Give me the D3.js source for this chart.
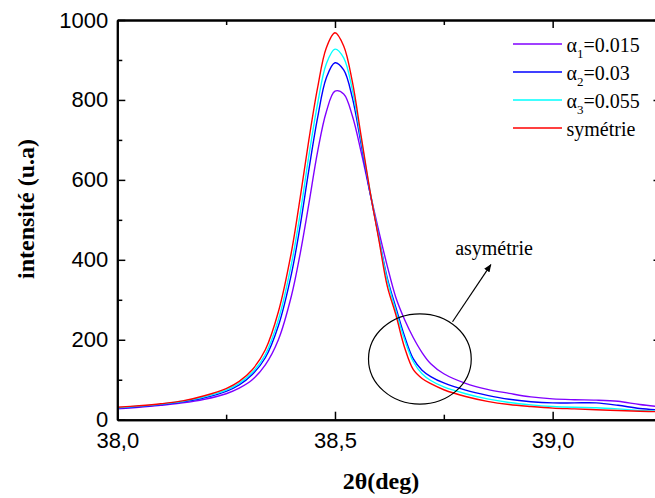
<!DOCTYPE html>
<html><head><meta charset="utf-8">
<script src="https://cdn.jsdelivr.net/npm/d3@7"></script>
<style>
html,body{margin:0;padding:0;background:#fff;}
svg{display:block;}
</style></head>
<body>
<svg id="chart" width="655" height="498"></svg>
<script>
// ---- data ----
const theta = [38.00,38.05,38.10,38.15,38.20,38.25,38.28,38.31,38.34,38.37,38.40,38.42,38.44,38.46,38.48,38.50,38.52,38.54,38.56,38.58,38.60,38.62,38.64,38.66,38.68,38.70,38.72,38.75,38.80,38.85,38.90,38.95,39.00,39.05,39.10,39.15,39.20,39.25];
const alpha1 = [27,31,36,42,51,65,79,100,137,200,310,415,540,670,770,822,815,760,670,570,475,385,305,250,205,168,140,115,91,76,66,57,52,50,49,46,38,32];
const alpha2 = [29,33,38,45,55,71,87,113,155,235,365,485,625,755,855,893,875,805,690,570,460,355,280,208,152,124,108,92,74,61,51,45,42,42,42,36,28,24];
const alpha3 = [30,34,39,46,57,74,91,118,163,250,390,515,660,790,890,927,905,825,700,575,460,350,272,200,145,115,98,82,65,52,43,37,33,31,30,27,23,21];
const symetrie = [31,35,40,47,60,78,96,125,175,270,420,555,700,830,930,968,935,845,710,575,455,335,262,180,125,103,90,75,58,46,38,33,29,27,25,23,21,20];
const seriesNames = ["α1","α2","α3","symétrie"];
const legendMain = ["α","α","α","symétrie"];
const legendSub = ["1","2","3",""];
const legendVal = ["=0.015","=0.03","=0.055",""];
const seriesColors = ["#8000ff","#0000ff","#00ffff","#ff0000"];
const xMajor = [38.0,38.5,39.0];
const xMajorLabels = ["38,0","38,5","39,0"];
const xMinor = [38.25,38.75,39.25];
const yMajor = [0,200,400,600,800,1000];
const yMinor = [100,300,500,700,900];
const annot = {cx:38.695, cy:152, rx:0.118, ry:113, ax0:38.770, ay0:245, ax1:38.858, ay1:388, tx:38.776, ty:412, text:"asymétrie"};

// ---- layout ----
const svg = d3.select("#chart");
const X0 = 117.3, X1 = 661.5, Y0 = 419.7, Y1 = 20;
const x = d3.scaleLinear().domain([38.0,39.25]).range([X0,X1]);
const y = d3.scaleLinear().domain([0,1000]).range([Y0,Y1]);

svg.append("defs").append("clipPath").attr("id","clip")
  .append("rect").attr("x",X0).attr("y",Y1).attr("width",X1-X0).attr("height",Y0-Y1);

const data = [alpha1, alpha2, alpha3, symetrie];
const line = d3.line().x((d,i)=>x(theta[i])).y(d=>y(d)).curve(d3.curveCatmullRom.alpha(0.5));
const g = svg.append("g").attr("clip-path","url(#clip)");
data.forEach((s,k)=>{
  g.append("path").datum(s).attr("d",line).attr("fill","none")
   .attr("stroke",seriesColors[k]).attr("stroke-width",1.4);
});

// ---- axes ----
const fmtX = d => xMajorLabels[xMajor.indexOf(d)];
function styleAxis(sel){
  sel.select(".domain").attr("stroke","#000").attr("stroke-width",2);
  sel.selectAll(".tick line").attr("stroke","#000").attr("stroke-width",1.5);
  sel.selectAll("text").attr("fill","#000");
}
const sans = "'Liberation Sans', Arial, sans-serif";
const serif = "'Liberation Serif', 'Times New Roman', serif";

// bottom
svg.append("g").attr("transform",`translate(0,${Y0})`)
  .call(d3.axisBottom(x).tickValues(xMajor).tickFormat(fmtX).tickSizeInner(-8).tickSizeOuter(0).tickPadding(12.5))
  .call(styleAxis).call(a=>a.selectAll("text").attr("font-family",sans).attr("font-size",22));
svg.append("g").attr("transform",`translate(0,${Y0})`)
  .call(d3.axisBottom(x).tickValues(xMinor).tickFormat("").tickSizeInner(-5).tickSizeOuter(0))
  .call(styleAxis);
// top
svg.append("g").attr("transform",`translate(0,${Y1})`)
  .call(d3.axisTop(x).tickValues(xMajor).tickFormat("").tickSizeInner(-8).tickSizeOuter(0))
  .call(styleAxis);
svg.append("g").attr("transform",`translate(0,${Y1})`)
  .call(d3.axisTop(x).tickValues(xMinor).tickFormat("").tickSizeInner(-5).tickSizeOuter(0))
  .call(styleAxis);
// left
svg.append("g").attr("transform",`translate(${X0},0)`)
  .call(d3.axisLeft(y).tickValues(yMajor).tickFormat(d3.format("d")).tickSizeInner(-8).tickSizeOuter(0).tickPadding(9))
  .call(styleAxis).call(a=>a.selectAll("text").attr("font-family",sans).attr("font-size",22));
svg.append("g").attr("transform",`translate(${X0},0)`)
  .call(d3.axisLeft(y).tickValues(yMinor).tickFormat("").tickSizeInner(-5).tickSizeOuter(0))
  .call(styleAxis);
// right
svg.append("g").attr("transform",`translate(${X1},0)`)
  .call(d3.axisRight(y).tickValues(yMajor).tickFormat("").tickSizeInner(-8).tickSizeOuter(0))
  .call(styleAxis);
svg.append("g").attr("transform",`translate(${X1},0)`)
  .call(d3.axisRight(y).tickValues(yMinor).tickFormat("").tickSizeInner(-5).tickSizeOuter(0))
  .call(styleAxis);

// axis titles
svg.append("text").attr("x",381).attr("y",489).attr("text-anchor","middle")
  .attr("font-family",serif).attr("font-weight","bold").attr("font-size",24).text("2θ(deg)");
svg.append("text").attr("transform","translate(34,209) rotate(-90)").attr("text-anchor","middle")
  .attr("font-family",serif).attr("font-weight","bold").attr("font-size",24).text("intensité (u.a)");

// legend
const lg = svg.append("g");
seriesNames.forEach((n,k)=>{
  const ly = 44 + k*28;
  lg.append("line").attr("x1",513).attr("x2",562).attr("y1",ly).attr("y2",ly)
    .attr("stroke",seriesColors[k]).attr("stroke-width",1.4);
  const t = lg.append("text").attr("x",566.5).attr("y",ly+7.5)
    .attr("font-family",serif).attr("font-size",20).attr("fill","#000");
  t.append("tspan").text(legendMain[k]);
  if(legendSub[k]){
    t.append("tspan").attr("font-size",13).attr("dy",6).text(legendSub[k]);
    t.append("tspan").attr("dy",-6).text(legendVal[k]);
  }
});

// annotation
svg.append("ellipse").attr("cx",x(annot.cx)).attr("cy",y(annot.cy))
  .attr("rx",x(annot.cx+annot.rx)-x(annot.cx)).attr("ry",y(0)-y(annot.ry))
  .attr("fill","none").attr("stroke","#000").attr("stroke-width",1.2);
svg.append("defs").append("marker").attr("id","arr").attr("viewBox","0 0 10 10")
  .attr("refX",9).attr("refY",5).attr("markerWidth",8).attr("markerHeight",8)
  .attr("markerUnits","userSpaceOnUse").attr("orient","auto")
  .append("path").attr("d","M0,1 L10,5 L0,9 Z").attr("fill","#000");
svg.append("line").attr("x1",x(annot.ax0)).attr("y1",y(annot.ay0))
  .attr("x2",x(annot.ax1)).attr("y2",y(annot.ay1))
  .attr("stroke","#000").attr("stroke-width",1.2).attr("marker-end","url(#arr)");
svg.append("text").attr("x",x(annot.tx)).attr("y",y(annot.ty))
  .attr("font-family",serif).attr("font-size",20).attr("fill","#000").text(annot.text);
</script>
</body></html>
